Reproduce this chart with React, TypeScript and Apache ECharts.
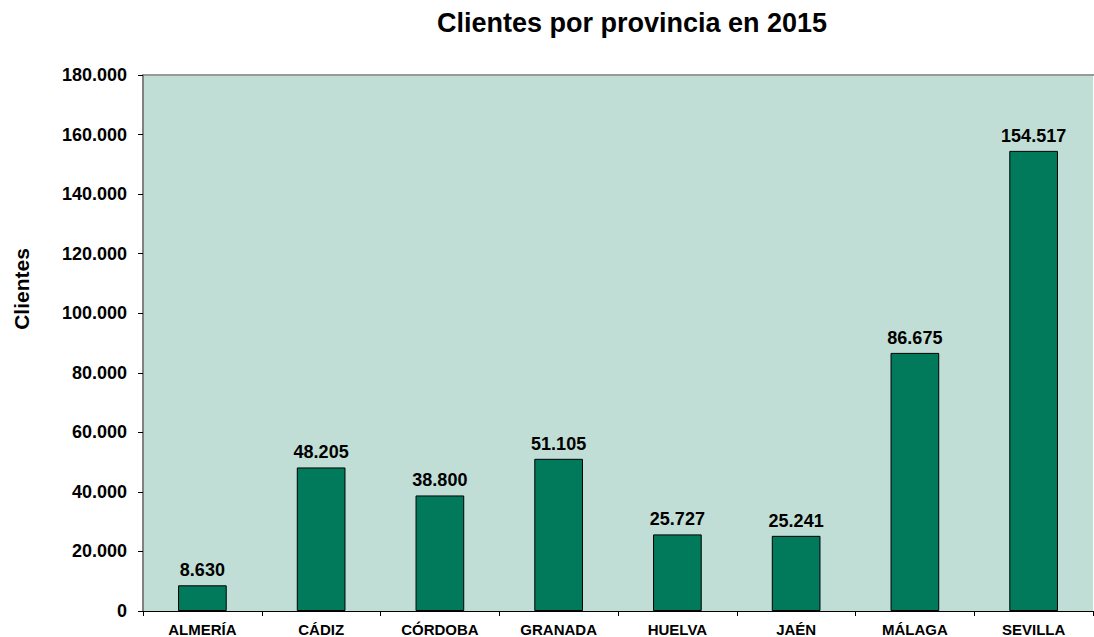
import React, { useEffect, useRef } from "react";
import * as echarts from "echarts";

const categories = ["ALMERÍA", "CÁDIZ", "CÓRDOBA", "GRANADA", "HUELVA", "JAÉN", "MÁLAGA", "SEVILLA"];
const clientes = [8630, 48205, 38800, 51105, 25727, 25241, 86675, 154517];
const titleText = "Clientes por provincia en 2015";
const yAxisName = "Clientes";

const fmt = (v: number) => String(Math.round(v)).replace(/\B(?=(\d{3})+(?!\d))/g, ".");

export default function App() {
  const ref = useRef<HTMLDivElement>(null);
  useEffect(() => {
    const chart = echarts.init(ref.current!, null, { renderer: "svg" });
    const font = "'Liberation Sans', Arial, sans-serif";
    chart.setOption({
      animation: false,
      title: {
        text: titleText,
        left: 627,
        textAlign: "center",
        top: 4,
        textStyle: { fontFamily: font, fontWeight: "bold", fontSize: 27, color: "#000" },
      },
      grid: { left: 143, right: 1, top: 75, bottom: 26, show: true, backgroundColor: "#C0DED6", borderWidth: 0 },
      xAxis: {
        type: "category",
        data: categories,
        axisLine: { lineStyle: { color: "#000", width: 1 } },
        axisTick: { show: true, inside: false, length: 5, lineStyle: { color: "#000" } },
        axisLabel: { fontFamily: font, fontWeight: "bold", fontSize: 15, color: "#000", margin: 11 },
      },
      yAxis: {
        type: "value",
        min: 0,
        max: 180000,
        interval: 20000,
        axisLine: { show: true, lineStyle: { color: "#808080", width: 2 } },
        axisTick: { show: true, length: 5, lineStyle: { color: "#000" } },
        axisLabel: { fontFamily: font, fontWeight: "bold", fontSize: 18, color: "#000", margin: 16, formatter: (v: number) => fmt(v) },
        splitLine: { show: false },
      },
      graphic: [
        { type: "line", shape: { x1: 143, y1: 75, x2: 1094, y2: 75 }, style: { stroke: "#999", lineWidth: 2 } },
        {
          type: "text",
          x: 21,
          y: 289,
          rotation: Math.PI / 2,
          style: {
            text: yAxisName,
            fontFamily: font,
            fontWeight: "bold",
            fontSize: 21,
            fill: "#000",
            textAlign: "center",
            textVerticalAlign: "middle",
          },
        },
      ],
      series: [
        {
          type: "bar",
          data: clientes,
          barWidth: "41%",
          itemStyle: { color: "#007A5A", borderColor: "#000", borderWidth: 1 },
          label: {
            show: true,
            position: "top",
            distance: 6,
            fontFamily: font,
            fontWeight: "bold",
            fontSize: 18,
            color: "#000",
            formatter: (p: any) => fmt(p.value),
          },
        },
      ],
    });
    return () => chart.dispose();
  }, []);
  return <div ref={ref} style={{ width: 1094, height: 637, position: "absolute", left: 0, top: 0 }} />;
}
